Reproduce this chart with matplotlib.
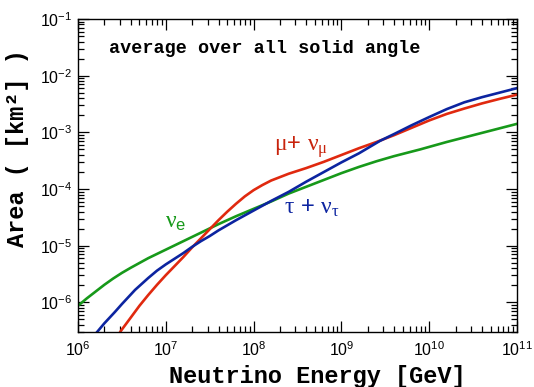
import matplotlib
matplotlib.use("Agg")
import matplotlib.pyplot as plt
from matplotlib.ticker import LogLocator, NullFormatter
import numpy as np

# values, stored as log10(energy / GeV) and log10(area / km^2)
nue_logE = [6.0, 6.1, 6.2, 6.3, 6.4, 6.5, 6.6, 6.8, 7.0, 7.2, 7.4, 7.6, 7.8, 8.0, 8.2, 8.4,
            8.6, 8.8, 9.0, 9.2, 9.4, 9.6, 9.9, 10.2, 10.5, 10.8, 11.0]
nue_logA = [-6.06, -5.93, -5.81, -5.69, -5.58, -5.48, -5.39, -5.22, -5.07, -4.92,
            -4.77, -4.62, -4.48, -4.35, -4.22, -4.08, -3.96, -3.84, -3.72, -3.61,
            -3.51, -3.42, -3.30, -3.17, -3.05, -2.93, -2.85]

numu_logE = [6.40, 6.49, 6.6, 6.7, 6.8, 6.9, 7.0, 7.1, 7.2, 7.3, 7.4, 7.5, 7.6,
             7.7, 7.8, 7.9, 8.0, 8.1, 8.2, 8.3, 8.4, 8.6, 8.8, 9.0, 9.2, 9.4,
             9.6, 9.8, 10.0, 10.2, 10.4, 10.6, 10.8, 11.0]
numu_logA = [-6.72, -6.50, -6.27, -6.06, -5.87, -5.69, -5.52, -5.36, -5.20, -5.03,
             -4.87, -4.71, -4.55, -4.40, -4.26, -4.13, -4.02, -3.93, -3.85, -3.79,
             -3.73, -3.63, -3.52, -3.40, -3.28, -3.17, -3.05, -2.92, -2.79, -2.675,
             -2.58, -2.49, -2.41, -2.335]

nutau_logE = [6.15, 6.23, 6.3, 6.42, 6.5, 6.65, 6.8, 6.9, 7.0, 7.1, 7.2, 7.3, 7.4,
              7.5, 7.6, 7.8, 8.0, 8.2, 8.4, 8.6, 8.8, 9.0, 9.2, 9.44, 9.6, 9.8,
              10.0, 10.2, 10.4, 10.6, 10.8, 11.0]
nutau_logA = [-6.65, -6.50, -6.37, -6.17, -6.03, -5.78, -5.57, -5.44, -5.33, -5.23,
              -5.13, -5.02, -4.92, -4.83, -4.73, -4.55, -4.38, -4.21, -4.05, -3.87,
              -3.70, -3.53, -3.37, -3.15, -3.03, -2.875, -2.73, -2.59, -2.47, -2.38,
              -2.30, -2.22]

red = '#e0290f'
blue = '#0c24a0'
green = '#17991a'

plt.rcParams['font.family'] = 'Liberation Sans'
plt.rcParams['mathtext.fontset'] = 'custom'
plt.rcParams['mathtext.rm'] = 'Liberation Serif'
plt.rcParams['mathtext.it'] = 'Liberation Serif:italic'
plt.rcParams['mathtext.sf'] = 'Liberation Sans'

fig = plt.figure(figsize=(5.34, 3.87), dpi=100)
ax = fig.add_axes([78 / 534, 1 - 332 / 387, 439 / 534, 313 / 387])

ax.plot(10 ** np.array(nue_logE), 10 ** np.array(nue_logA), color=green, lw=1.9)
ax.plot(10 ** np.array(numu_logE), 10 ** np.array(numu_logA), color=red, lw=1.9)
ax.plot(10 ** np.array(nutau_logE), 10 ** np.array(nutau_logA), color=blue, lw=1.9)

ax.set_xscale('log')
ax.set_yscale('log')
ax.set_xlim(1e6, 1e11)
ax.set_ylim(3e-7, 1e-1)

for axis in (ax.xaxis, ax.yaxis):
    axis.set_major_locator(LogLocator(base=10, numticks=20))
    axis.set_minor_locator(LogLocator(base=10, subs=np.arange(2, 10), numticks=20))
    axis.set_minor_formatter(NullFormatter())

ax.tick_params(which='both', direction='in', top=True, right=True, width=0.9)
ax.tick_params(which='major', length=8, labelsize=11.5)
ax.tick_params(axis='x', which='major', pad=6)
ax.tick_params(axis='y', which='major', pad=4)
ax.tick_params(which='minor', length=4.5)
for sp in ax.spines.values():
    sp.set_linewidth(1.0)

ax.set_xlabel('Neutrino Energy [GeV]', family='Liberation Mono', weight='bold', fontsize=17)
ax.xaxis.set_label_coords(0.544, -0.105)
ax.set_ylabel('Area ( [km²] )', family='Liberation Mono', weight='bold', fontsize=17)
ax.yaxis.set_label_coords(-0.112, 0.589)

ax.text(0.425, 0.905, 'average over all solid angle', transform=ax.transAxes,
        family='Liberation Mono', weight='bold', fontsize=13.3, ha='center', va='center')

ax.text(0.508, 0.591, r'$\mathrm{\mu}$+ $\mathrm{\nu_{\mu}}$', transform=ax.transAxes,
        color='#c8230c', fontsize=17, ha='center', va='center')
ax.text(0.533, 0.396, r'$\mathrm{\tau}$ + $\mathrm{\nu_{\tau}}$', transform=ax.transAxes,
        color=blue, fontsize=17, ha='center', va='center')
ax.text(0.223, 0.351, r'$\mathrm{\nu}_{\mathsf{e}}$', transform=ax.transAxes,
        color=green, fontsize=17, ha='center', va='center')

fig.savefig('out.png', dpi=100)
